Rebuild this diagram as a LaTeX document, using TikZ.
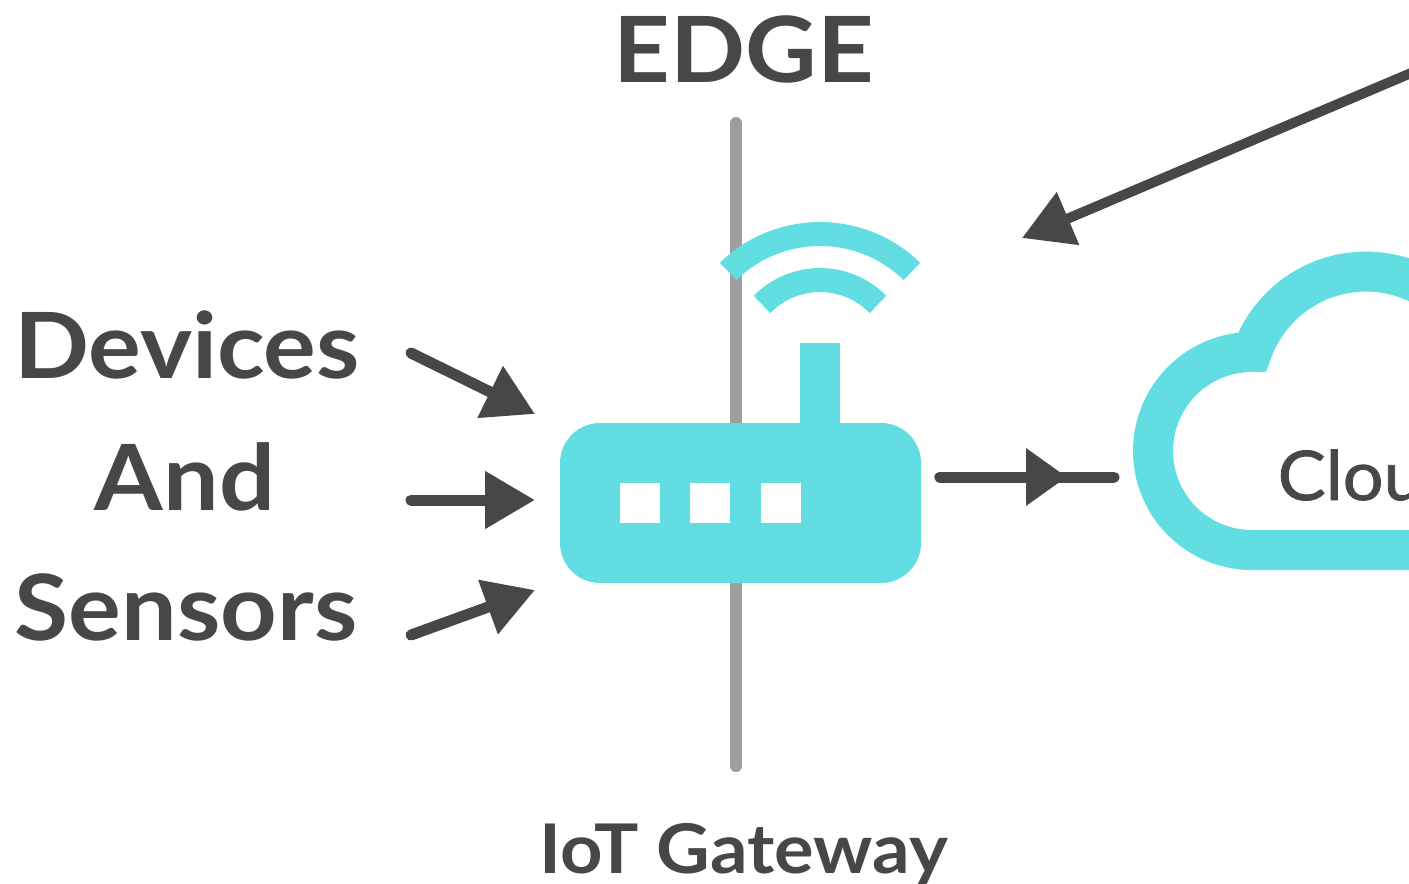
\documentclass[tikz,border=0pt]{standalone}
\usepackage{fontspec}
\setmainfont[FakeStretch=1.08]{Lato}
\newfontfamily\cloudfont[FakeStretch=1.05,FakeBold=1.2]{Lato}
\usetikzlibrary{arrows.meta}
\definecolor{gwteal}{HTML}{62DDE2}
\definecolor{inkgray}{HTML}{474747}
\definecolor{edgegray}{HTML}{9E9E9E}
\begin{document}
\begin{tikzpicture}[
  lbl/.style={anchor=base, inner sep=0pt, text=inkgray, font=\fontsize{26}{30}\selectfont\bfseries},
  smalllbl/.style={lbl, font=\fontsize{19.5}{24}\selectfont\bfseries},
  gw/.style={rectangle, fill=gwteal, rounded corners=4mm, minimum width=36.1mm, minimum height=16mm, inner sep=0pt},
  led/.style={rectangle, fill=white, minimum width=4mm, minimum height=4mm, inner sep=0pt},
  ant/.style={rectangle, fill=gwteal, minimum width=4mm, minimum height=8mm, inner sep=0pt},
  wave/.style={gwteal, line width=2.4mm},
  e/.style={-{Triangle[length=5mm,width=5.5mm]}, inkgray, line width=1.1mm, line cap=round},
  w/.style={inkgray, line width=1.1mm, line cap=round}
]
\clip (0,0) rectangle (14.09,-8.83);

\coordinate (top) at (7.36,-1.23);
\coordinate (bot) at (7.36,-7.66);
\draw[edgegray, line width=1.2mm, line cap=round] (top) -- (bot);

\node[lbl] (edge) at (7.44,-0.82) {EDGE};
\node[lbl] (devices) at (1.87,-3.78) {Devices};
\node[lbl] (and) at (1.85,-5.10) {And};
\node[lbl] (sensors) at (1.86,-6.40) {Sensors};
\node[smalllbl] (gwlabel) at (7.44,-8.73) {IoT Gateway};

\node[ant] (antenna) at (8.20,-3.83) {};
\node[gw] (router) at (7.405,-5.03) {};
\node[led] (l1) at (6.40,-5.03) {};
\node[led] (l2) at (7.10,-5.03) {};
\node[led] (l3) at (7.805,-5.03) {};

\draw[wave] (8.20,-3.656) ++(134.3:1.316) arc[start angle=134.3, end angle=45.7, radius=1.316];
\draw[wave] (8.20,-3.609) ++(135.8:0.809) arc[start angle=135.8, end angle=44.2, radius=0.809];

\draw[gwteal, line width=4mm] (14.5,-5.5) -- (12.52,-5.5)
  arc[start angle=270, end angle=90, radius=0.99]
  arc[start angle=160.4, end angle=60, radius=1.21];
\node[anchor=base west, inner sep=0pt, text=inkgray, font=\fontsize{19.5}{24}\selectfont\cloudfont] (cloud) at (12.77,-5.00) {Clou};

\coordinate (d1) at (4.11,-3.53);
\coordinate (d2) at (4.11,-5.00);
\coordinate (d3) at (4.11,-6.35);
\coordinate (t1) at (5.35,-4.14);
\coordinate (t2) at (5.35,-5.00);
\coordinate (t3) at (5.35,-5.90);
\draw[e] (d1) -- (t1);
\draw[e] (d2) -- (t2);
\draw[e] (d3) -- (t3);

\coordinate (far) at (14.30,-0.65);
\coordinate (t4) at (10.22,-2.38);
\draw[e, line width=1mm] (far) -- (t4);

\coordinate (o1) at (9.40,-4.77);
\coordinate (o2) at (10.67,-4.77);
\coordinate (o3) at (11.14,-4.77);
\draw[w] (o1) -- (o3);
\draw[e, {-Triangle[length=4.1mm,width=5.5mm]}] (o1) -- (o2);
\end{tikzpicture}
\end{document}
